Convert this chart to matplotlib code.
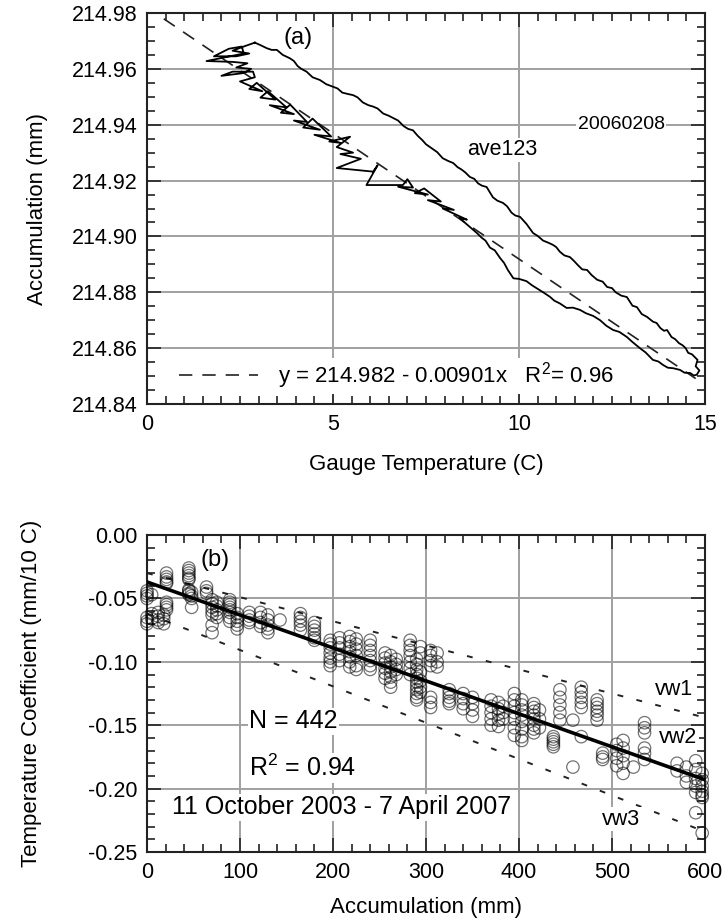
import numpy as np
import matplotlib
matplotlib.use('Agg')
import matplotlib.pyplot as plt
from matplotlib.ticker import MultipleLocator, FormatStrFormatter

plt.rcParams['font.family'] = ['Liberation Sans', 'DejaVu Sans']
plt.rcParams['axes.unicode_minus'] = False
plt.rcParams['mathtext.fontset'] = 'custom'
plt.rcParams['mathtext.rm'] = 'Liberation Sans'

# panel (a): hysteresis loop, 20060208 ..........................................
# warming branch (sawtooth), left cluster -> right tip
warm_t = [2.90, 2.60, 2.30, 2.75, 2.40, 1.80, 2.20, 2.55, 2.60, 1.60, 2.30, 2.70,
          2.40, 2.80, 2.60, 2.00, 2.30, 2.85, 2.90, 2.50,
          3.10, 2.75, 2.95, 3.45, 3.05, 3.25, 3.75, 3.30, 3.95, 3.60, 3.85, 4.30,
          3.95, 4.65, 4.20, 4.45, 4.95, 4.50, 5.20, 4.90, 5.46, 5.10, 5.54, 5.20,
          5.75, 5.10, 6.08, 6.20, 5.90, 6.88, 7.00, 7.15, 6.75, 7.55, 7.20, 7.45,
          7.90, 7.55, 8.25, 7.95, 8.60, 8.40, 8.87,
          9.00, 9.10, 9.22, 9.35, 9.49, 9.60, 9.70, 9.85, 10.00, 10.20, 10.35,
          10.47, 10.65, 10.83, 10.95, 11.10, 11.28, 11.45, 11.64, 11.80, 12.00,
          12.18, 12.35, 12.53, 12.70, 12.90, 13.05, 13.25, 13.40, 13.60, 13.75,
          13.87, 14.00, 14.15, 14.33, 14.45, 14.60, 14.70, 14.78]
warm_acc = [214.9694, 214.9680, 214.9665, 214.9655, 214.9645, 214.9645, 214.9672,
            214.9680, 214.9655, 214.9628, 214.9625, 214.9620, 214.9605, 214.9600,
            214.9585, 214.9575, 214.9590, 214.9590, 214.9570, 214.9555,
            214.9520, 214.9528, 214.9550, 214.9490, 214.9497, 214.9520, 214.9462,
            214.9470, 214.9438, 214.9443, 214.9472, 214.9410, 214.9415, 214.9382,
            214.9390, 214.9422, 214.9358, 214.9364, 214.9335, 214.9340, 214.9357,
            214.9320, 214.9300, 214.9295, 214.9278, 214.9245, 214.9232, 214.9255,
            214.9184, 214.9184, 214.9205, 214.9175, 214.9178, 214.9150, 214.9155,
            214.9172, 214.9125, 214.9130, 214.9095, 214.9100, 214.9060, 214.9066,
            214.9012,
            214.8995, 214.8985, 214.8960, 214.8950, 214.8923, 214.8905, 214.8880,
            214.8850, 214.8848, 214.8840, 214.8825, 214.8815, 214.8800, 214.8784,
            214.8770, 214.8760, 214.8744, 214.8745, 214.8737, 214.8725, 214.8715,
            214.8700, 214.8680, 214.8665, 214.8658, 214.8640, 214.8622, 214.8600,
            214.8585, 214.8558, 214.8552, 214.8540, 214.8530, 214.8528, 214.8522,
            214.8512, 214.8511, 214.8502, 214.8505]
# cooling branch, right tip -> left peak
cool_t = [14.78, 14.85, 14.75, 14.80, 14.65, 14.55, 14.48, 14.40, 14.30, 14.20,
          14.10, 13.98, 13.90, 13.80, 13.70, 13.60, 13.44, 13.30, 13.17, 13.05,
          12.90, 12.75, 12.60, 12.50, 12.37, 12.25, 12.10, 11.95, 11.83, 11.70,
          11.60, 11.48, 11.37, 11.22, 11.10, 11.00, 10.91, 10.78, 10.65, 10.50,
          10.38, 10.20, 10.03, 9.90, 9.80, 9.68, 9.57, 9.42, 9.30, 9.20, 9.13,
          9.00, 8.90, 8.80, 8.68, 8.55, 8.45, 8.35, 8.23, 8.10, 7.95, 7.80, 7.61,
          7.50, 7.40, 7.28, 7.15, 7.02, 6.90, 6.75, 6.62, 6.50, 6.35, 6.20, 6.08,
          5.95, 5.80, 5.66, 5.54, 5.40, 5.25, 5.12, 5.00, 4.82, 4.65, 4.45, 4.29,
          4.15, 4.05, 3.95, 3.84, 3.65, 3.49, 3.35, 3.22, 3.05, 2.90]
cool_acc = [214.8505, 214.8520, 214.8535, 214.8558, 214.8578, 214.8583, 214.8600,
            214.8610, 214.8618, 214.8632, 214.8640, 214.8665, 214.8662, 214.8672,
            214.8690, 214.8695, 214.8712, 214.8722, 214.8747, 214.8752, 214.8783,
            214.8788, 214.8800, 214.8815, 214.8819, 214.8838, 214.8845, 214.8862,
            214.8880, 214.8882, 214.8895, 214.8912, 214.8926, 214.8932, 214.8945,
            214.8962, 214.8970, 214.8978, 214.8985, 214.9002, 214.9012, 214.9045,
            214.9070, 214.9075, 214.9085, 214.9108, 214.9120, 214.9128, 214.9140,
            214.9162, 214.9177, 214.9182, 214.9190, 214.9206, 214.9213, 214.9230,
            214.9240, 214.9248, 214.9263, 214.9270, 214.9280, 214.9302, 214.9320,
            214.9330, 214.9345, 214.9360, 214.9380, 214.9385, 214.9395, 214.9415,
            214.9424, 214.9432, 214.9440, 214.9458, 214.9465, 214.9470, 214.9480,
            214.9498, 214.9506, 214.9510, 214.9515, 214.9530, 214.9536, 214.9545,
            214.9560, 214.9570, 214.9590, 214.9600, 214.9610, 214.9628, 214.9638,
            214.9650, 214.9668, 214.9668, 214.9674, 214.9685, 214.9694]
fit_a = (214.982, -0.00901)
fit_a_range = [0.45, 14.75]

# panel (b): temperature coefficient vs accumulation ...........................
acc_groups = [0, 5, 12, 18, 21, 45, 48, 64, 70, 75, 89, 97, 110, 122, 130, 143,
              165, 180, 197, 207, 218, 225, 240, 256, 262, 268, 283, 290, 294,
              305, 312, 325, 340, 350, 370, 378, 383, 395, 403, 416, 422, 437,
              444, 458, 467, 484, 490, 505, 512, 523, 535, 570, 580, 590, 597]
coef_groups = [
    [-0.044, -0.046, -0.048, -0.050, -0.065, -0.068, -0.070],
    [-0.047, -0.062, -0.066],
    [-0.061, -0.064, -0.067, -0.069],
    [-0.063, -0.066, -0.070],
    [-0.030, -0.033, -0.035, -0.037, -0.038, -0.053, -0.055, -0.057, -0.059],
    [-0.026, -0.028, -0.030, -0.032, -0.034, -0.035, -0.043, -0.044, -0.046, -0.047],
    [-0.045, -0.048, -0.050, -0.057],
    [-0.041, -0.044, -0.046],
    [-0.051, -0.054, -0.057, -0.060, -0.063, -0.071, -0.077],
    [-0.053, -0.056, -0.059, -0.062, -0.065],
    [-0.051, -0.053, -0.055, -0.057, -0.059, -0.061, -0.065, -0.068],
    [-0.062, -0.065, -0.068, -0.071, -0.074],
    [-0.061, -0.064, -0.067, -0.069],
    [-0.061, -0.065, -0.069, -0.072],
    [-0.063, -0.067, -0.071, -0.074, -0.077],
    [-0.067],
    [-0.062, -0.065, -0.068, -0.071, -0.075],
    [-0.069, -0.072, -0.075, -0.078, -0.081, -0.083],
    [-0.083, -0.086, -0.089, -0.093, -0.097, -0.100, -0.103],
    [-0.081, -0.085, -0.089, -0.094, -0.099],
    [-0.080, -0.084, -0.088, -0.092, -0.096, -0.100, -0.104],
    [-0.082, -0.086, -0.090, -0.095, -0.103, -0.106],
    [-0.083, -0.087, -0.091, -0.095, -0.099, -0.103, -0.106],
    [-0.093, -0.097, -0.101, -0.105, -0.109, -0.113],
    [-0.095, -0.100, -0.104, -0.108, -0.112, -0.116, -0.120],
    [-0.098, -0.102, -0.106, -0.110],
    [-0.083, -0.087, -0.091, -0.095, -0.100, -0.105, -0.110],
    [-0.098, -0.102, -0.106, -0.110, -0.113, -0.116, -0.119, -0.122, -0.125, -0.128, -0.130],
    [-0.088, -0.093, -0.108, -0.115, -0.120, -0.124],
    [-0.091, -0.095, -0.099, -0.103, -0.128, -0.132, -0.136],
    [-0.093, -0.100, -0.104],
    [-0.122, -0.125, -0.128, -0.131, -0.133],
    [-0.125, -0.129, -0.133, -0.137],
    [-0.128, -0.133, -0.138, -0.143],
    [-0.130, -0.135, -0.140, -0.145, -0.150],
    [-0.132, -0.137, -0.141, -0.146, -0.151],
    [-0.135, -0.140, -0.145],
    [-0.125, -0.130, -0.135, -0.140, -0.145, -0.152, -0.158],
    [-0.130, -0.134, -0.138, -0.142, -0.147, -0.153, -0.159, -0.162],
    [-0.133, -0.136, -0.139, -0.142, -0.145, -0.150, -0.153, -0.156],
    [-0.138, -0.145, -0.152],
    [-0.159, -0.161, -0.163, -0.165, -0.167],
    [-0.122, -0.128, -0.134, -0.140, -0.146],
    [-0.146, -0.183],
    [-0.120, -0.124, -0.128, -0.132, -0.136, -0.159],
    [-0.130, -0.133, -0.136, -0.139, -0.142, -0.146],
    [-0.172, -0.175, -0.177],
    [-0.165, -0.170, -0.176, -0.182],
    [-0.162, -0.168, -0.174, -0.180, -0.188],
    [-0.183],
    [-0.148, -0.152, -0.156, -0.168, -0.172, -0.177],
    [-0.180, -0.186],
    [-0.183, -0.190, -0.195],
    [-0.178, -0.185, -0.192, -0.198, -0.203, -0.219],
    [-0.188, -0.193, -0.198, -0.202, -0.205, -0.207, -0.235],
]
# lines (accumulation end points, coefficient end points)
line_acc = [0, 600]
vw1 = [-0.030, -0.144]
vw2 = [-0.037, -0.193]
vw3 = [-0.062, -0.234]


def style_axes(ax, xmaj, xmin, ymaj, ymin):
    ax.xaxis.set_major_locator(MultipleLocator(xmaj))
    ax.xaxis.set_minor_locator(MultipleLocator(xmin))
    ax.yaxis.set_major_locator(MultipleLocator(ymaj))
    ax.yaxis.set_minor_locator(MultipleLocator(ymin))
    ax.tick_params(which='both', direction='in', top=True, right=True,
                   width=1.2, color='#222222', labelsize=15.5, pad=7)
    ax.tick_params(which='major', length=10)
    ax.tick_params(which='minor', length=6)
    ax.grid(True, which='major', color='#a0a0a0', linewidth=1.4)
    ax.set_axisbelow(True)
    for s in ax.spines.values():
        s.set_linewidth(1.5)
        s.set_color('#222222')


def main():
    fig = plt.figure(figsize=(7.27, 9.23), dpi=100)

    # panel (a) .................................................................
    ax1 = fig.add_axes([0.2022, 0.5623, 0.7675, 0.4236])
    ax1.plot(warm_t + cool_t, warm_acc + cool_acc, color='black',
             linewidth=1.3, zorder=3)
    xf = np.array(fit_a_range)
    line, = ax1.plot(xf, fit_a[0] + fit_a[1] * xf, color='#222222',
                     linewidth=1.2, dashes=(8, 6), zorder=2,
                     label='y = 214.982 - 0.00901x   R$^2$= 0.96')
    ax1.set_xlim(0, 15)
    ax1.set_ylim(214.84, 214.98)
    style_axes(ax1, 5, 0.5, 0.02, 0.005)
    ax1.yaxis.set_major_formatter(FormatStrFormatter('%.2f'))
    ax1.set_xlabel('Gauge Temperature (C)', fontsize=16, labelpad=14)
    ax1.set_ylabel('Accumulation (mm)', fontsize=16)
    ax1.yaxis.set_label_coords(-0.177, 0.5)
    ax1.text(4.06, 214.9712, '(a)', fontsize=17, ha='center', va='center')
    ax1.text(12.75, 214.9400, '20060208', fontsize=14, ha='center', va='center',
             bbox=dict(facecolor='white', edgecolor='none', pad=1))
    ax1.text(8.6, 214.9310, 'ave123', fontsize=15.5, ha='left', va='center',
             bbox=dict(facecolor='white', edgecolor='none', pad=1))
    leg = ax1.legend(handles=[line], loc='lower center',
                     bbox_to_anchor=(0.447, 0.015),
                     frameon=True, fontsize=16, handlelength=3.55,
                     handletextpad=0.9, borderpad=0.1, borderaxespad=0.2,
                     fancybox=False)
    leg.get_frame().set_edgecolor('none')
    leg.get_frame().set_facecolor('white')
    leg.get_frame().set_alpha(1)

    # panel (b) .................................................................
    ax2 = fig.add_axes([0.2022, 0.0769, 0.7675, 0.3434])
    xs = np.concatenate([[a] * len(c) for a, c in zip(acc_groups, coef_groups)])
    ys = np.concatenate([np.array(c) for c in coef_groups])
    ax2.scatter(xs, ys, s=80, facecolors='none', edgecolors=(0, 0, 0, 0.55),
                linewidths=0.9, zorder=3, clip_on=False)
    ax2.plot(line_acc, vw1, color='#222222', linewidth=1.4, dashes=(3, 7), zorder=2)
    ax2.plot(line_acc, vw3, color='#222222', linewidth=1.4, dashes=(3, 7), zorder=2)
    ax2.plot(line_acc, vw2, color='black', linewidth=2.6, zorder=4)
    ax2.set_xlim(0, 600)
    ax2.set_ylim(-0.25, 0.0)
    style_axes(ax2, 100, 20, 0.05, 0.01)
    ax2.yaxis.set_major_formatter(FormatStrFormatter('%.2f'))
    ax2.set_xlabel('Accumulation (mm)', fontsize=16, labelpad=10)
    ax2.set_ylabel('Temperature Coefficient (mm/10 C)', fontsize=16)
    ax2.yaxis.set_label_coords(-0.188, 0.5)
    box = dict(facecolor='white', edgecolor='none', pad=1)
    ax2.text(73, -0.0195, '(b)', fontsize=17, ha='center', va='center')
    ax2.text(110, -0.1467, 'N = 442', fontsize=18, ha='left', va='center', bbox=box, zorder=5)
    ax2.text(110, -0.1838, 'R$^2$ = 0.94', fontsize=18, ha='left', va='center', bbox=box, zorder=5)
    ax2.text(27, -0.2145, '11 October 2003 - 7 April 2007', fontsize=18,
             ha='left', va='center', bbox=box, zorder=5)
    ax2.text(587, -0.1220, 'vw1', fontsize=15.5, ha='right', va='center', bbox=box, zorder=5)
    ax2.text(592, -0.1600, 'vw2', fontsize=15.5, ha='right', va='center', bbox=box, zorder=5)
    ax2.text(510, -0.2240, 'vw3', fontsize=15.5, ha='center', va='center', bbox=box, zorder=5)

    fig.savefig('out.png', dpi=100)


if __name__ == '__main__':
    main()
